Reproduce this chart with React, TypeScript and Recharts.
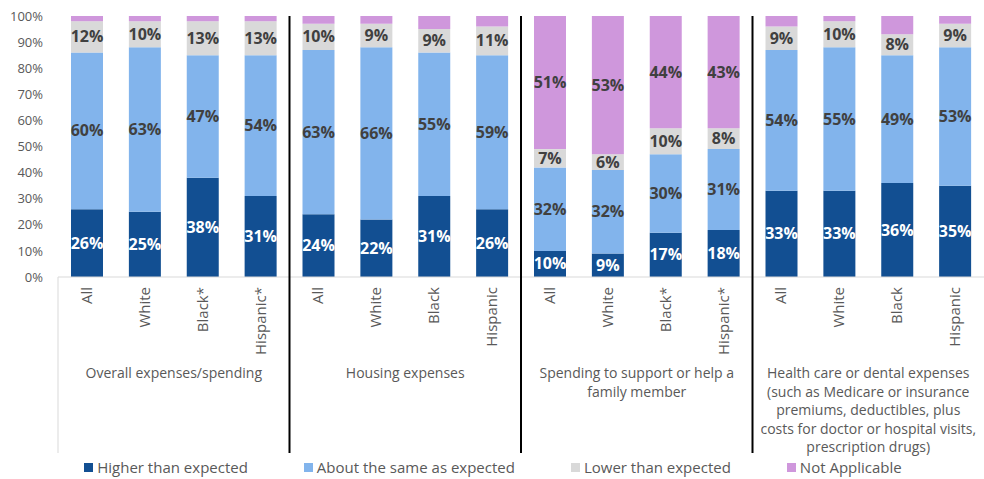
import React from 'react';
import { BarChart, Bar, XAxis, YAxis, LabelList, Legend } from 'recharts';

const categories = [
  'All', 'White', 'Black*', 'Hispanic*',
  'All', 'White', 'Black', 'Hispanic',
  'All', 'White', 'Black*', 'Hispanic*',
  'All', 'White', 'Black', 'Hispanic',
];
const groupNames = [
  'Overall expenses/spending',
  'Housing expenses',
  'Spending to support or help a\nfamily member',
  'Health care or dental expenses\n(such as Medicare or insurance\npremiums, deductibles, plus\ncosts for doctor or hospital visits,\nprescription drugs)',
];
const higher = [26, 25, 38, 31, 24, 22, 31, 26, 10, 9, 17, 18, 33, 33, 36, 35];
const aboutSame = [60, 63, 47, 54, 63, 66, 55, 59, 32, 32, 30, 31, 54, 55, 49, 53];
const lower = [12, 10, 13, 13, 10, 9, 9, 11, 7, 6, 10, 8, 9, 10, 8, 9];
const notApplicable = [2, 2, 2, 2, 3, 3, 5, 4, 51, 53, 44, 43, 4, 2, 7, 3];
const yTicks = [0, 10, 20, 30, 40, 50, 60, 70, 80, 90, 100];

const series = [
  { key: 'higher', name: 'Higher than expected', color: '#124F92', labelColor: '#ffffff' },
  { key: 'aboutSame', name: 'About the same as expected', color: '#82B4EC', labelColor: '#404040' },
  { key: 'lower', name: 'Lower than expected', color: '#D9D9D9', labelColor: '#404040' },
  { key: 'notApplicable', name: 'Not Applicable', color: '#CF97DC', labelColor: '#404040' },
];

const data = categories.map((c, i) => ({
  id: `c${i}`,
  category: c,
  group: groupNames[Math.floor(i / 4)],
  higher: higher[i],
  aboutSame: aboutSame[i],
  lower: lower[i],
  notApplicable: notApplicable[i],
}));

const W = 984;
const H = 479;
const PLOT_TOP = 16;
const PLOT_BOTTOM = 277;
const CAT_AXIS_H = 80;
const GROUP_AXIS_H = 96;
const FONT = '"Open Sans", sans-serif';

const CategoryTick = (props: any) => {
  const { x, y, payload } = props;
  return (
    <text
      x={x}
      y={y}
      transform={`rotate(-90 ${x} ${y})`}
      textAnchor="end"
      dy={5}
      fill="#595959"
      fontSize={15}
      fontFamily={FONT}
    >
      {categories[payload.index] ?? payload.value}
    </text>
  );
};

// group label under each block of four bars, plus the black divider on its left
const GroupTick = (props: any) => {
  const { x, y, payload, index } = props;
  const half = payload.offset || (W - 58) / 8;
  const left = x - half;
  const lines = String(payload.value).split('\n');
  return (
    <g>
      {index === 0 ? (
        <line x1={left} x2={left} y1={PLOT_BOTTOM} y2={y + GROUP_AXIS_H} stroke="#D9D9D9" strokeWidth={1} />
      ) : (
        <line x1={left} x2={left} y1={PLOT_TOP} y2={y + GROUP_AXIS_H} stroke="#000000" strokeWidth={2} />
      )}
      {lines.map((l, i) => (
        <text
          key={i}
          x={x}
          y={y + 21 + i * 18.5}
          textAnchor="middle"
          fill="#595959"
          fontSize={14}
          fontFamily={FONT}
        >
          {l}
        </text>
      ))}
    </g>
  );
};

const makeLabel = (color: string, onlyGroup?: number) => (props: any) => {
  const { x, y, width, height, value, index } = props;
  if (value == null) return null;
  if (onlyGroup != null && Math.floor(index / 4) !== onlyGroup) return null;
  return (
    <text
      x={x + width / 2}
      y={y + height / 2}
      dy={5.5}
      textAnchor="middle"
      fill={color}
      fontSize={16}
      fontWeight={700}
      fontFamily={FONT}
    >
      {`${value}%`}
    </text>
  );
};

const LegendContent = () => (
  <div
    style={{
      display: 'flex',
      justifyContent: 'center',
      gap: 56,
      fontFamily: FONT,
      fontSize: 15,
      color: '#595959',
      paddingTop: 4,
      paddingLeft: 2,
    }}
  >
    {series.map((s) => (
      <div key={s.key} style={{ display: 'flex', alignItems: 'center' }}>
        <span style={{ display: 'inline-block', width: 9, height: 9, background: s.color, marginRight: 4 }} />
        <span>{s.name}</span>
      </div>
    ))}
  </div>
);

export default function App() {
  return (
    <div style={{ position: 'absolute', left: 0, top: 0, width: W, height: H, background: '#fff' }}>
      <BarChart
        width={W}
        height={H}
        data={data}
        margin={{ top: PLOT_TOP, right: 0, left: 0, bottom: 0 }}
        barSize={32}
        style={{ fontFamily: FONT }}
      >
        <XAxis
          dataKey="id"
          xAxisId={0}
          interval={0}
          height={CAT_AXIS_H}
          tick={<CategoryTick />}
          tickLine={false}
          tickSize={0}
          tickMargin={10}
          axisLine={{ stroke: '#D9D9D9' }}
        />
        <XAxis
          dataKey="group"
          xAxisId="grp"
          allowDuplicatedCategory={false}
          interval={0}
          height={GROUP_AXIS_H}
          tick={<GroupTick />}
          tickLine={false}
          tickSize={0}
          tickMargin={0}
          axisLine={false}
        />
        <YAxis
          width={58}
          domain={[0, 100]}
          ticks={yTicks}
          allowDataOverflow
          tickFormatter={(v: number) => `${v}%`}
          axisLine={false}
          tickLine={false}
          tickSize={0}
          tickMargin={15}
          tick={{ fill: '#595959', fontSize: 13, fontFamily: FONT }}
        />
        <Legend verticalAlign="bottom" height={26} content={<LegendContent />} />
        {series.map((s) => (
          <Bar
            key={s.key}
            dataKey={s.key}
            name={s.name}
            stackId="a"
            fill={s.color}
            xAxisId={0}
            isAnimationActive={false}
          >
            <LabelList
              dataKey={s.key}
              content={makeLabel(s.labelColor, s.key === 'notApplicable' ? 2 : undefined)}
            />
          </Bar>
        ))}
      </BarChart>
    </div>
  );
}
